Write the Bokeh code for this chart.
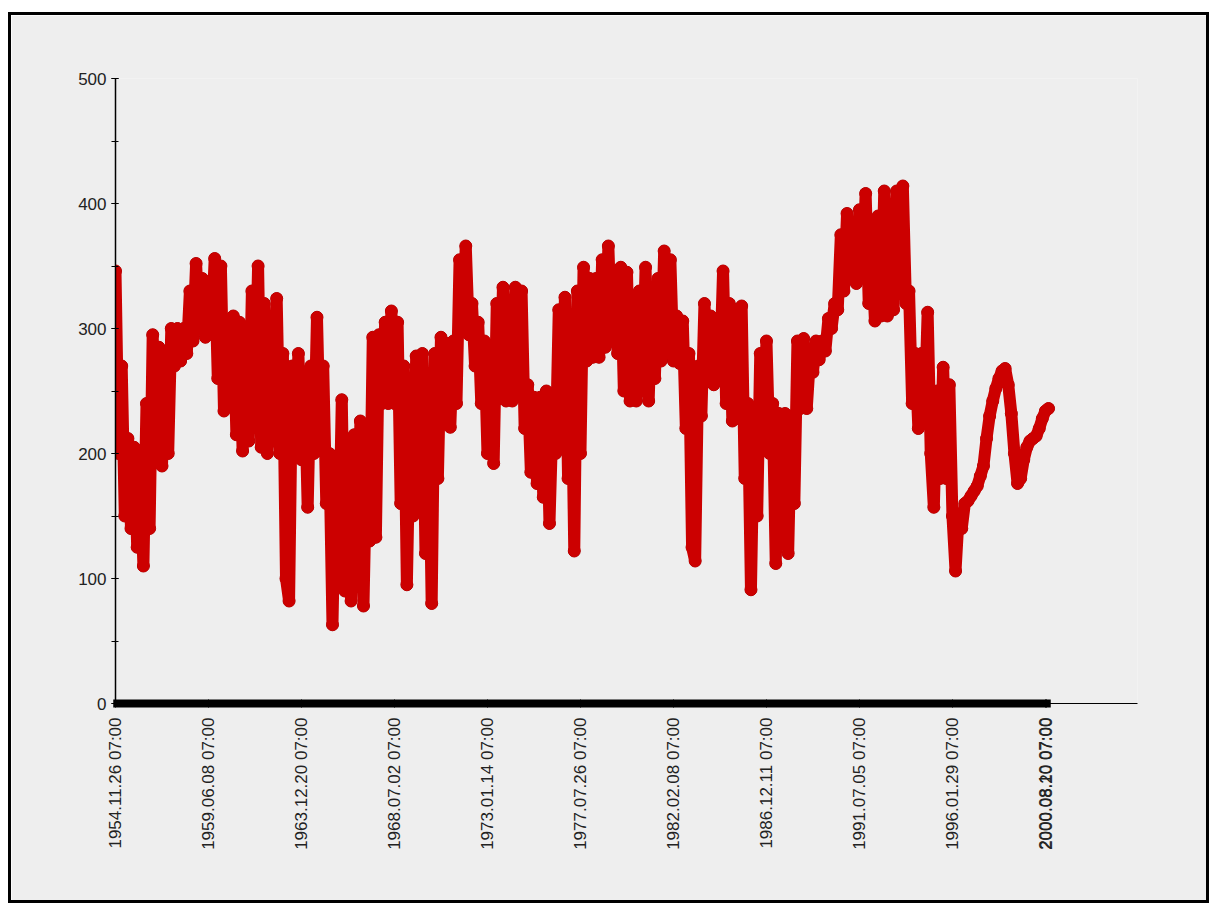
import math
from bokeh.plotting import figure
from bokeh.models import FixedTicker, SingleIntervalTicker, Range1d
from bokeh.embed import file_html
from bokeh.resources import INLINE

# tick positions (point index) and their date labels
tick_index = [0, 30, 60, 90, 120, 150, 180, 210, 240, 270, 300, 300.4]
tick_labels = [
    "1954.11.26 07:00", "1959.06.08 07:00", "1963.12.20 07:00",
    "1968.07.02 07:00", "1973.01.14 07:00", "1977.07.26 07:00",
    "1982.02.08 07:00", "1986.12.11 07:00", "1991.07.05 07:00",
    "1996.01.29 07:00", "2000.08.10 07:00", "2000.08.20 07:00",
]

# series values (dense oscillation between highs and lows)
values = [
    346, 200, 270, 150, 212, 140, 205, 125, 185, 110,
    240, 140, 295, 195, 285, 190, 270, 200, 300, 270,
    300, 274, 300, 280, 330, 290, 352, 300, 340, 293,
    330, 300, 356, 260, 350, 234, 300, 240, 310, 215,
    305, 202, 260, 210, 330, 240, 350, 205, 320, 200,
    300, 210, 324, 200, 280, 100, 82, 270, 200, 280,
    195, 260, 157, 270, 200, 309, 205, 270, 160, 200,
    63, 190, 110, 243, 90, 200, 82, 215, 100, 226,
    78, 200, 130, 293, 133, 295, 240, 305, 240, 314,
    240, 305, 160, 270, 95, 230, 150, 278, 200, 280,
    120, 240, 80, 280, 180, 293, 225, 288, 221, 290,
    240, 355, 300, 366, 295, 320, 270, 305, 240, 290,
    200, 270, 192, 320, 245, 333, 242, 300, 242, 333,
    255, 330, 220, 255, 185, 245, 176, 245, 165, 250,
    144, 230, 200, 315, 250, 325, 180, 290, 122, 330,
    200, 349, 274, 340, 277, 340, 277, 355, 285, 366,
    290, 340, 280, 349, 250, 345, 242, 320, 242, 330,
    250, 349, 242, 320, 260, 340, 274, 362, 280, 355,
    274, 310, 272, 306, 220, 280, 125, 114, 270, 230,
    320, 262, 310, 255, 300, 265, 346, 240, 320, 226,
    315, 228, 318, 180, 240, 91, 230, 150, 280, 218,
    290, 200, 240, 112, 232, 150, 232, 120, 230, 160,
    290, 236, 292, 236, 275, 265, 290, 275, 290, 282,
    308, 300, 320, 315, 375, 330, 392, 340, 370, 336,
    395, 345, 408, 320, 360, 306, 390, 310, 410, 310,
    380, 315, 410, 345, 414, 320, 330, 240, 280, 220,
    280, 230, 313, 200, 157, 250, 180, 269, 180, 255,
    150, 106, 150, 140, 160, 162, 166, 170, 174, 182,
    190, 212, 230, 242, 252, 260, 266, 268, 255, 232,
    200, 176, 180, 195, 205, 210, 212, 214, 220, 228, 234, 236,
]
x = list(range(len(values)))

BG = "#eeeeee"
p = figure(
    width=1201, height=891,
    output_backend="svg", toolbar_location=None,
    x_range=Range1d(0, 329.7), y_range=Range1d(0, 500),
    min_border_left=104, min_border_right=75,
    min_border_top=63, min_border_bottom=203,
    background_fill_color=BG, border_fill_color=BG,
    outline_line_color=None,
)
p.styles = {"border": "3px solid black", "margin-top": "12px", "margin-left": "8px"}
p.grid.visible = False

# data: markers underneath, thick connecting line on top
p.scatter(x, values, size=12, fill_color="#cc0000", line_color="#a80000", line_width=1)
p.line(x, values, line_color="#cc0000", line_width=12, line_join="round", line_cap="round")

FONT = "Liberation Sans"
for ax in (p.xaxis, p.yaxis):
    ax.major_label_text_font = FONT
    ax.major_label_text_font_size = "17px"
    ax.major_label_text_color = "#222222"
    ax.axis_line_color = "black"
    ax.major_tick_line_color = "black"
    ax.minor_tick_line_color = "black"

p.yaxis.ticker = SingleIntervalTicker(interval=100, num_minor_ticks=2)
p.yaxis.axis_line_width = 1.5
p.yaxis.major_tick_in = 3
p.yaxis.major_tick_out = 4
p.yaxis.minor_tick_in = 3
p.yaxis.minor_tick_out = 4
p.yaxis.major_label_standoff = 5

p.xaxis.ticker = FixedTicker(ticks=tick_index, minor_ticks=x)
p.xaxis.major_label_overrides = {t: lab for t, lab in zip(tick_index, tick_labels)}
p.xaxis.major_label_orientation = math.pi / 2
p.xaxis.axis_line_width = 1
p.xaxis.major_tick_in = 4
p.xaxis.major_tick_out = 4
p.xaxis.minor_tick_in = 4
p.xaxis.minor_tick_out = 4
p.xaxis.minor_tick_line_width = 4.5
p.xaxis.major_label_standoff = 10

open("out.html", "w").write(file_html(p, INLINE))
